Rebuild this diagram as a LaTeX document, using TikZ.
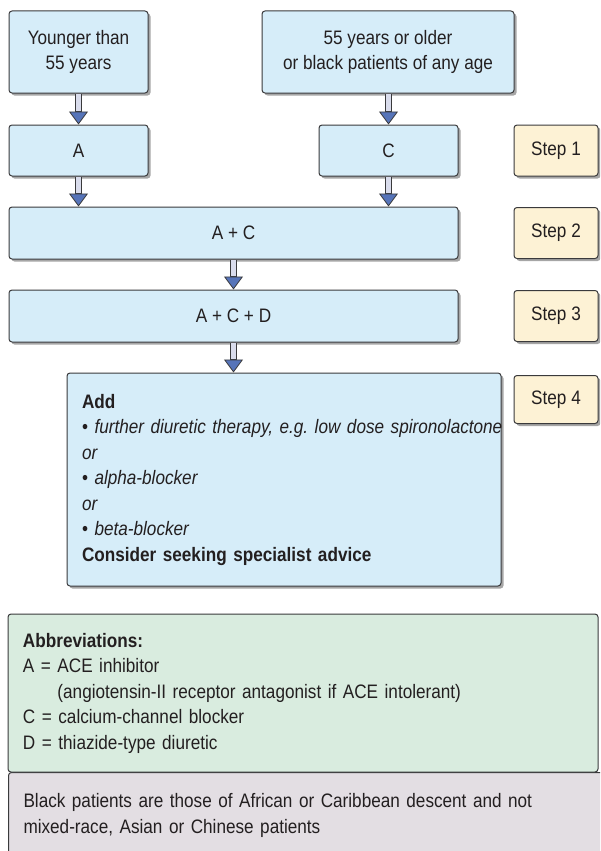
\documentclass[tikz,border=0pt]{standalone}
\usepackage{fontspec}
\setmainfont{Liberation Sans}[FakeStretch=0.88]
\usetikzlibrary{arrows.meta,shadows}

\definecolor{ink}{HTML}{231F20}
\definecolor{edge}{HTML}{3A3A3C}
\definecolor{boxblue}{HTML}{D6EDF9}
\definecolor{stepfill}{HTML}{FDF2D5}
\definecolor{abbrfill}{HTML}{D9ECDF}
\definecolor{notefill}{HTML}{E3DEE3}
\definecolor{tipblue}{HTML}{5674B9}
\definecolor{shaftfill}{HTML}{D9DCEC}

\begin{document}
\begin{tikzpicture}[x=1pt,y=-1pt,
  every node/.style={text=ink, font=\fontsize{19.5}{25.5}\selectfont},
  basebox/.style={rectangle, rounded corners=3pt, draw=edge, line width=1pt,
    inner sep=0pt, align=center},
  boxshadow/.style={drop shadow={shadow xshift=2.5pt, shadow yshift=-2.5pt,
    fill=black, opacity=0.35}},
  flowbox/.style={basebox, fill=boxblue, boxshadow},
  stepbox/.style={basebox, fill=stepfill, boxshadow,
    minimum width=84pt, minimum height=51pt},
  flow/.style={line width=7pt, draw=edge, shorten <=0.5pt,
    -{Triangle[length=13pt, width=19pt, line width=0.8pt, fill=tipblue]},
    postaction={draw=shaftfill, line width=5pt, arrows=-,
      shorten >=13.5pt, shorten <=0.5pt}}
]
\useasboundingbox (0,0) rectangle (600,851);
\clip (0,0) rectangle (600,851);

% patient groups
\node[flowbox, minimum width=139pt, minimum height=82pt] (young) at (78.5,52)
  {Younger than\\55 years};
\node[flowbox, minimum width=252pt, minimum height=82pt] (older) at (388,52)
  {55 years or older\\or black patients of any age};

% step 1
\node[flowbox, minimum width=139pt, minimum height=51pt] (A) at (78.5,150.5) {A};
\node[flowbox, minimum width=139pt, minimum height=51pt] (C) at (388.5,150.5) {C};
\node[stepbox] (s1) at (556,150.5) {Step 1};

% step 2
\node[flowbox, minimum width=449pt, minimum height=52pt] (AC) at (233.5,233) {A + C};
\node[stepbox] (s2) at (556,233) {Step 2};

% step 3
\node[flowbox, minimum width=449pt, minimum height=52pt] (ACD) at (233.5,316) {A + C + D};
\node[stepbox] (s3) at (556,316) {Step 3};

% step 4
\node[flowbox, minimum width=434pt, minimum height=213pt, inner xsep=15pt,
  text width=404pt, align=left] (add) at (284,479.5)
  {\textbf{Add}\\
   \mbox{\textbullet\ \textit{further diuretic therapy, e.g.\ low dose spironolactone}}\\
   \textit{or}\\
   \textbullet\ \textit{alpha-blocker}\\
   \textit{or}\\
   \textbullet\ \textit{beta-blocker}\\
   \textbf{Consider seeking specialist advice}};
\node[stepbox, minimum height=48pt] (s4) at (556,399.5) {Step 4};

% connectors
\draw[flow] (young.south) -- (A.north);
\draw[flow] (older.south -| C.north) -- (C.north);
\draw[flow] (A.south) -- (A.south |- AC.north);
\draw[flow] (C.south) -- (C.south |- AC.north);
\draw[flow] (AC.south) -- (ACD.north);
\draw[flow] (ACD.south) -- (ACD.south |- add.north);

% footnotes
\node[basebox, fill=notefill, anchor=north west, minimum width=620pt,
  inner xsep=15pt, inner ysep=21pt, text width=590pt, align=left] (note) at (8,772)
  {Black patients are those of African or Caribbean descent and not\\
   mixed-race, Asian or Chinese patients};
\node[basebox, fill=abbrfill, minimum width=590pt, minimum height=158pt,
  inner xsep=15pt, text width=560pt, align=left] (abbr) at (303,693)
  {\textbf{Abbreviations:}\\
   A = ACE inhibitor\\
   \phantom{A = }(angiotensin-II receptor antagonist if ACE intolerant)\\
   C = calcium-channel blocker\\
   D = thiazide-type diuretic};
\end{tikzpicture}
\end{document}
